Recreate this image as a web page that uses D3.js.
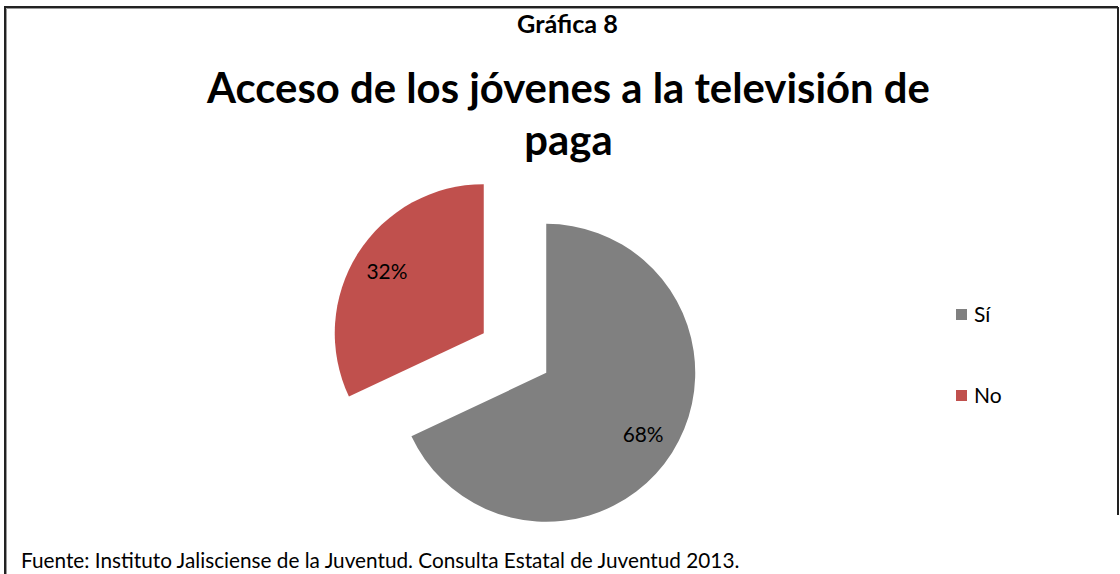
<!DOCTYPE html>
<html>
<head>
<meta charset="utf-8">
<script src="https://cdn.jsdelivr.net/npm/d3@7"></script>
<style>
  html, body { margin: 0; padding: 0; background: #fff; }
  svg { display: block; }
  text { font-family: Lato, "Open Sans", "DejaVu Sans", sans-serif; }
</style>
</head>
<body>
<svg id="chart" width="1120" height="574"></svg>
<script>
// ---- data ----
const categories = ["Sí", "No"];
const values = [68, 32];
const labels = ["68%", "32%"];
const colors = ["#808080", "#C0504D"];
const chartLabel = "Gráfica 8";
const titleLines = ["Acceso de los jóvenes a la televisión de", "paga"];
const footer = "Fuente: Instituto Jalisciense de la Juventud. Consulta Estatal de Juventud 2013.";

const svg = d3.select("#chart");

// fit font size so that text reaches a target width
function fit(sel, target) {
  const w = sel.node().getComputedTextLength();
  const fs = parseFloat(sel.attr("font-size"));
  sel.attr("font-size", fs * target / w);
}

// border
svg.append("path")
  .attr("d", "M5,574 V7 H1118")
  .attr("fill", "none").attr("stroke", "#222").attr("stroke-width", 2);
svg.append("path")
  .attr("d", "M6.5,574 V8.5 H1118")
  .attr("fill", "none").attr("stroke", "#999").attr("stroke-width", 1);
svg.append("line")
  .attr("x1", 1118).attr("x2", 1118).attr("y1", 7).attr("y2", 515)
  .attr("stroke", "#222").attr("stroke-width", 2);

// small heading
const h = svg.append("text").attr("x", 567.5).attr("y", 33)
  .attr("text-anchor", "middle").attr("font-weight", 700).attr("font-size", 18)
  .attr("fill", "#000").text(chartLabel);
fit(h, 101);

// title
const t1 = svg.append("text").attr("x", 568.5).attr("y", 103)
  .attr("text-anchor", "middle").attr("font-weight", 700).attr("font-size", 40)
  .attr("fill", "#000").text(titleLines[0]);
fit(t1, 723);
const tfs = t1.attr("font-size");
svg.append("text").attr("x", 568.5).attr("y", 155)
  .attr("text-anchor", "middle").attr("font-weight", 700).attr("font-size", tfs)
  .attr("fill", "#000").text(titleLines[1]);

// pie
const cx = 515, cy = 353, r = 149, explode = 37;
const pie = d3.pie().sort(null).value(d => d)(values);
const arc = d3.arc().innerRadius(0).outerRadius(r);
const g = svg.append("g").attr("transform", `translate(${cx},${cy})`);
const slices = g.selectAll("g.slice").data(pie).join("g")
  .attr("class", "slice")
  .attr("transform", d => {
    const a = (d.startAngle + d.endAngle) / 2;
    return `translate(${Math.sin(a) * explode},${-Math.cos(a) * explode})`;
  });
slices.append("path").attr("d", arc).attr("fill", (d, i) => colors[i]);
const labArc = d3.arc().innerRadius(r * 0.77).outerRadius(r * 0.77);
slices.append("text")
  .attr("transform", d => `translate(${labArc.centroid(d)})`)
  .attr("text-anchor", "middle").attr("dy", "0.35em")
  .attr("font-size", 17).attr("fill", "#000")
  .text((d, i) => labels[i])
  .each(function() { fit(d3.select(this), 41); });

// legend
const legY = [314.5, 395.5];
const lg = svg.append("g");
categories.forEach((c, i) => {
  lg.append("rect").attr("x", 956).attr("y", legY[i] - 5.5).attr("width", 11).attr("height", 11)
    .attr("fill", colors[i]);
  lg.append("text").attr("x", 974).attr("y", legY[i] + 7)
    .attr("font-size", 21).attr("fill", "#000").text(c);
});

// footer
const f = svg.append("text").attr("x", 21).attr("y", 568)
  .attr("font-size", 16).attr("fill", "#000").text(footer);
fit(f, 719);
</script>
</body>
</html>
